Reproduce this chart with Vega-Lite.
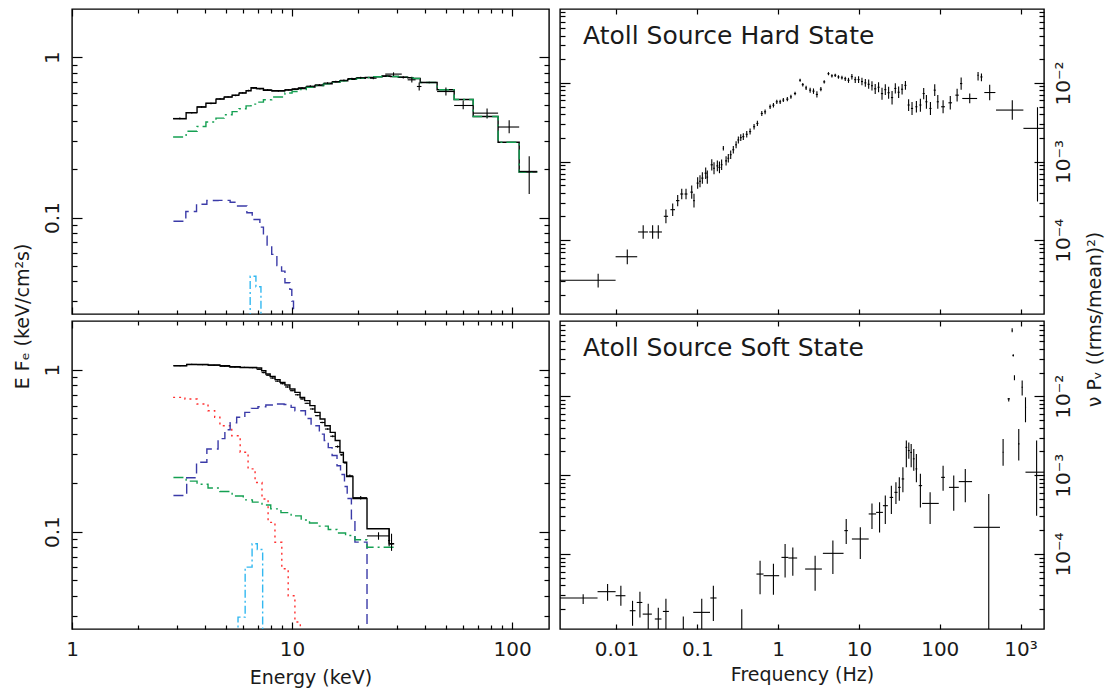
{
  "$schema": "https://vega.github.io/schema/vega-lite/v6.json",
  "background": "white",
  "padding": {"left": 12, "top": 7, "right": 0, "bottom": 0},
  "autosize": {"type": "pad"},
  "config": {
    "view": {"stroke": "#000", "strokeWidth": 1.4},
    "font": "DejaVu Sans",
    "axis": {
      "domain": false, "grid": false, "tickColor": "#000", "tickWidth": 1.2,
      "labelFont": "DejaVu Sans", "labelFontSize": 20, "labelColor": "#1a1a1a",
      "labelFlush": false, "labelOverlap": false,
      "titleFont": "DejaVu Sans", "titleFontSize": 19, "titleFontWeight": "normal", "titleColor": "#1a1a1a"
    },
    "title": {"font": "DejaVu Sans", "fontSize": 25, "fontWeight": "normal", "color": "#1a1a1a"}
  },
  "datasets": {
    "tlModel": [
      {"c":"tot","e":2.88,"f":0.413},{"c":"tot","e":3.30,"f":0.451},{"c":"tot","e":3.70,"f":0.489},{"c":"tot","e":4.06,"f":0.517},
      {"c":"tot","e":4.51,"f":0.548},{"c":"tot","e":4.91,"f":0.564},{"c":"tot","e":5.34,"f":0.580},{"c":"tot","e":5.74,"f":0.597},
      {"c":"tot","e":6.18,"f":0.618},{"c":"tot","e":6.51,"f":0.645},{"c":"tot","e":6.88,"f":0.638},{"c":"tot","e":7.41,"f":0.623},
      {"c":"tot","e":8.08,"f":0.618},{"c":"tot","e":9.28,"f":0.625},{"c":"tot","e":10.0,"f":0.632},{"c":"tot","e":10.65,"f":0.638},
      {"c":"tot","e":11.6,"f":0.652},{"c":"tot","e":12.7,"f":0.666},{"c":"tot","e":13.9,"f":0.683},{"c":"tot","e":15.2,"f":0.699},
      {"c":"tot","e":16.5,"f":0.714},{"c":"tot","e":17.9,"f":0.729},{"c":"tot","e":19.6,"f":0.739},{"c":"tot","e":21.5,"f":0.747},
      {"c":"tot","e":23.5,"f":0.755},{"c":"tot","e":25.6,"f":0.761},{"c":"tot","e":28.0,"f":0.758},{"c":"tot","e":30.4,"f":0.751},
      {"c":"tot","e":33.5,"f":0.745},{"c":"tot","e":35.5,"f":0.737},{"c":"tot","e":38.2,"f":0.696},{"c":"tot","e":45.6,"f":0.627},
      {"c":"tot","e":54.5,"f":0.545},{"c":"tot","e":66.5,"f":0.427},{"c":"tot","e":86.3,"f":0.295},{"c":"tot","e":107.6,"f":0.192},
      {"c":"tot","e":130,"f":0.192},
      {"c":"comp","e":2.88,"f":0.318},{"c":"comp","e":3.30,"f":0.345},{"c":"comp","e":3.70,"f":0.370},{"c":"comp","e":4.06,"f":0.394},
      {"c":"comp","e":4.51,"f":0.417},{"c":"comp","e":4.91,"f":0.438},{"c":"comp","e":5.34,"f":0.458},{"c":"comp","e":5.74,"f":0.477},
      {"c":"comp","e":6.18,"f":0.497},{"c":"comp","e":6.51,"f":0.510},{"c":"comp","e":6.88,"f":0.525},{"c":"comp","e":7.41,"f":0.543},
      {"c":"comp","e":8.08,"f":0.565},{"c":"comp","e":9.28,"f":0.598},{"c":"comp","e":10.0,"f":0.611},{"c":"comp","e":10.65,"f":0.628},
      {"c":"comp","e":11.6,"f":0.650},{"c":"comp","e":12.7,"f":0.666},{"c":"comp","e":13.9,"f":0.683},{"c":"comp","e":15.2,"f":0.699},
      {"c":"comp","e":16.5,"f":0.713},{"c":"comp","e":17.9,"f":0.728},{"c":"comp","e":19.6,"f":0.739},{"c":"comp","e":21.5,"f":0.747},
      {"c":"comp","e":23.5,"f":0.755},{"c":"comp","e":25.6,"f":0.761},{"c":"comp","e":28.0,"f":0.758},{"c":"comp","e":30.4,"f":0.751},
      {"c":"comp","e":33.5,"f":0.745},{"c":"comp","e":35.5,"f":0.737},{"c":"comp","e":38.2,"f":0.696},{"c":"comp","e":45.6,"f":0.627},
      {"c":"comp","e":54.5,"f":0.545},{"c":"comp","e":66.5,"f":0.427},{"c":"comp","e":86.3,"f":0.295},{"c":"comp","e":107.6,"f":0.192},
      {"c":"comp","e":130,"f":0.192},
      {"c":"disk","e":2.89,"f":0.0948},{"c":"disk","e":3.29,"f":0.109},{"c":"disk","e":3.68,"f":0.121},{"c":"disk","e":4.10,"f":0.1276},
      {"c":"disk","e":4.61,"f":0.128},{"c":"disk","e":5.23,"f":0.1245},{"c":"disk","e":5.60,"f":0.118},{"c":"disk","e":6.23,"f":0.107},
      {"c":"disk","e":6.59,"f":0.0972},{"c":"disk","e":7.14,"f":0.0871},{"c":"disk","e":7.41,"f":0.0765},{"c":"disk","e":7.70,"f":0.0673},
      {"c":"disk","e":8.08,"f":0.0589},{"c":"disk","e":8.53,"f":0.0502},{"c":"disk","e":8.96,"f":0.0463},{"c":"disk","e":9.28,"f":0.0392},
      {"c":"disk","e":9.77,"f":0.0356},{"c":"disk","e":9.97,"f":0.0301},{"c":"disk","e":10.15,"f":0.012},{"c":"disk","e":10.5,"f":0.012},
      {"c":"line","e":6.0,"f":0.005},{"c":"line","e":6.45,"f":0.043},{"c":"line","e":6.85,"f":0.037},{"c":"line","e":7.22,"f":0.005},
      {"c":"line","e":7.5,"f":0.005}
    ],
    "tlData": [
      {"e":3.09,"elo":2.88,"ehi":3.30,"f":0.415,"flo":0.41,"fhi":0.42},
      {"e":3.50,"elo":3.30,"ehi":3.70,"f":0.45,"flo":0.445,"fhi":0.455},
      {"e":3.88,"elo":3.70,"ehi":4.06,"f":0.49,"flo":0.484,"fhi":0.496},
      {"e":4.28,"elo":4.06,"ehi":4.51,"f":0.515,"flo":0.509,"fhi":0.521},
      {"e":4.71,"elo":4.51,"ehi":4.91,"f":0.55,"flo":0.544,"fhi":0.556},
      {"e":5.12,"elo":4.91,"ehi":5.34,"f":0.566,"flo":0.56,"fhi":0.572},
      {"e":5.54,"elo":5.34,"ehi":5.74,"f":0.578,"flo":0.572,"fhi":0.584},
      {"e":5.96,"elo":5.74,"ehi":6.18,"f":0.60,"flo":0.594,"fhi":0.606},
      {"e":6.34,"elo":6.18,"ehi":6.51,"f":0.62,"flo":0.613,"fhi":0.627},
      {"e":6.70,"elo":6.51,"ehi":6.88,"f":0.642,"flo":0.635,"fhi":0.649},
      {"e":7.14,"elo":6.88,"ehi":7.41,"f":0.636,"flo":0.629,"fhi":0.643},
      {"e":7.74,"elo":7.41,"ehi":8.08,"f":0.626,"flo":0.619,"fhi":0.633},
      {"e":8.66,"elo":8.08,"ehi":9.28,"f":0.616,"flo":0.609,"fhi":0.623},
      {"e":9.64,"elo":9.28,"ehi":10.0,"f":0.627,"flo":0.62,"fhi":0.634},
      {"e":10.3,"elo":10.0,"ehi":10.65,"f":0.634,"flo":0.627,"fhi":0.641},
      {"e":11.1,"elo":10.65,"ehi":11.6,"f":0.645,"flo":0.638,"fhi":0.652},
      {"e":12.1,"elo":11.6,"ehi":12.7,"f":0.66,"flo":0.652,"fhi":0.668},
      {"e":13.3,"elo":12.7,"ehi":13.9,"f":0.672,"flo":0.664,"fhi":0.68},
      {"e":14.5,"elo":13.9,"ehi":15.2,"f":0.69,"flo":0.682,"fhi":0.698},
      {"e":15.8,"elo":15.2,"ehi":16.5,"f":0.705,"flo":0.697,"fhi":0.713},
      {"e":17.2,"elo":16.5,"ehi":17.9,"f":0.718,"flo":0.709,"fhi":0.727},
      {"e":18.7,"elo":17.9,"ehi":19.6,"f":0.736,"flo":0.727,"fhi":0.745},
      {"e":20.5,"elo":19.6,"ehi":21.5,"f":0.745,"flo":0.735,"fhi":0.755},
      {"e":23.4,"elo":22.6,"ehi":24.2,"f":0.74,"flo":0.73,"fhi":0.75},
      {"e":26.7,"elo":25.6,"ehi":28.0,"f":0.765,"flo":0.755,"fhi":0.775},
      {"e":28.9,"elo":26.5,"ehi":31.5,"f":0.785,"flo":0.765,"fhi":0.805},
      {"e":32.0,"elo":30.4,"ehi":33.5,"f":0.75,"flo":0.738,"fhi":0.762},
      {"e":35.0,"elo":33.5,"ehi":36.4,"f":0.723,"flo":0.695,"fhi":0.755},
      {"e":37.8,"elo":36.9,"ehi":38.7,"f":0.657,"flo":0.62,"fhi":0.695},
      {"e":42.0,"elo":38.2,"ehi":45.6,"f":0.696,"flo":0.688,"fhi":0.704},
      {"e":50.0,"elo":45.6,"ehi":54.5,"f":0.611,"flo":0.577,"fhi":0.647},
      {"e":59.9,"elo":54.5,"ehi":66.5,"f":0.50,"flo":0.473,"fhi":0.537},
      {"e":76.9,"elo":66.5,"ehi":86.3,"f":0.448,"flo":0.415,"fhi":0.479},
      {"e":96.9,"elo":86.3,"ehi":107.6,"f":0.367,"flo":0.335,"fhi":0.404},
      {"e":119.5,"elo":107.6,"ehi":130,"f":0.194,"flo":0.14,"fhi":0.241}
    ],
    "blModel": [
      {"c":"tot","e":2.89,"f":1.059},{"c":"tot","e":3.32,"f":1.078},{"c":"tot","e":3.70,"f":1.078},{"c":"tot","e":4.15,"f":1.070},
      {"c":"tot","e":4.70,"f":1.059},{"c":"tot","e":5.20,"f":1.043},{"c":"tot","e":5.81,"f":1.033},{"c":"tot","e":6.35,"f":1.033},
      {"c":"tot","e":6.90,"f":1.024},{"c":"tot","e":7.27,"f":0.986},{"c":"tot","e":7.60,"f":0.941},{"c":"tot","e":7.95,"f":0.909},
      {"c":"tot","e":8.37,"f":0.868},{"c":"tot","e":8.82,"f":0.835},{"c":"tot","e":9.28,"f":0.804},{"c":"tot","e":9.77,"f":0.760},
      {"c":"tot","e":10.3,"f":0.724},{"c":"tot","e":10.87,"f":0.674},{"c":"tot","e":11.4,"f":0.644},{"c":"tot","e":12.05,"f":0.600},
      {"c":"tot","e":12.7,"f":0.545},{"c":"tot","e":13.4,"f":0.496},{"c":"tot","e":14.1,"f":0.451},{"c":"tot","e":14.9,"f":0.410},
      {"c":"tot","e":15.7,"f":0.365},{"c":"tot","e":16.5,"f":0.308},{"c":"tot","e":17.1,"f":0.268},{"c":"tot","e":17.7,"f":0.219},
      {"c":"tot","e":18.9,"f":0.160},{"c":"tot","e":21.9,"f":0.104},{"c":"tot","e":27.6,"f":0.084},{"c":"tot","e":29.1,"f":0.084},
      {"c":"bb","e":2.88,"f":0.675},{"c":"bb","e":3.26,"f":0.659},{"c":"bb","e":3.70,"f":0.614},{"c":"bb","e":4.15,"f":0.558},
      {"c":"bb","e":4.45,"f":0.508},{"c":"bb","e":4.70,"f":0.451},{"c":"bb","e":5.32,"f":0.391},{"c":"bb","e":5.81,"f":0.309},
      {"c":"bb","e":6.31,"f":0.244},{"c":"bb","e":6.79,"f":0.201},{"c":"bb","e":7.30,"f":0.159},{"c":"bb","e":7.78,"f":0.114},
      {"c":"bb","e":8.36,"f":0.0859},{"c":"bb","e":8.98,"f":0.0589},{"c":"bb","e":9.60,"f":0.0401},{"c":"bb","e":10.3,"f":0.0276},
      {"c":"bb","e":10.9,"f":0.0185},{"c":"bb","e":11.5,"f":0.0185},
      {"c":"disk","e":2.89,"f":0.167},{"c":"disk","e":3.32,"f":0.215},{"c":"disk","e":3.68,"f":0.268},{"c":"disk","e":4.10,"f":0.324},
      {"c":"disk","e":4.61,"f":0.375},{"c":"disk","e":4.95,"f":0.426},{"c":"disk","e":5.23,"f":0.47},{"c":"disk","e":5.60,"f":0.508},
      {"c":"disk","e":6.10,"f":0.545},{"c":"disk","e":6.53,"f":0.577},{"c":"disk","e":7.00,"f":0.590},{"c":"disk","e":7.60,"f":0.605},
      {"c":"disk","e":8.50,"f":0.614},{"c":"disk","e":9.20,"f":0.610},{"c":"disk","e":9.90,"f":0.585},{"c":"disk","e":10.3,"f":0.558},
      {"c":"disk","e":11.5,"f":0.500},{"c":"disk","e":12.2,"f":0.451},{"c":"disk","e":13.3,"f":0.400},{"c":"disk","e":14.0,"f":0.365},
      {"c":"disk","e":14.6,"f":0.330},{"c":"disk","e":15.2,"f":0.295},{"c":"disk","e":16.0,"f":0.255},{"c":"disk","e":16.6,"f":0.225},
      {"c":"disk","e":17.3,"f":0.190},{"c":"disk","e":17.8,"f":0.160},{"c":"disk","e":18.6,"f":0.120},{"c":"disk","e":19.3,"f":0.086},
      {"c":"disk","e":21.9,"f":0.005},{"c":"disk","e":22.5,"f":0.005},
      {"c":"comp","e":2.89,"f":0.216},{"c":"comp","e":3.30,"f":0.205},{"c":"comp","e":3.70,"f":0.196},{"c":"comp","e":4.15,"f":0.186},
      {"c":"comp","e":4.70,"f":0.177},{"c":"comp","e":5.34,"f":0.166},{"c":"comp","e":6.00,"f":0.157},{"c":"comp","e":6.60,"f":0.152},
      {"c":"comp","e":7.30,"f":0.146},{"c":"comp","e":8.00,"f":0.138},{"c":"comp","e":8.90,"f":0.131},{"c":"comp","e":9.90,"f":0.125},
      {"c":"comp","e":11.0,"f":0.118},{"c":"comp","e":12.0,"f":0.113},{"c":"comp","e":13.3,"f":0.108},{"c":"comp","e":14.6,"f":0.103},
      {"c":"comp","e":16.0,"f":0.098},{"c":"comp","e":17.5,"f":0.0945},{"c":"comp","e":19.3,"f":0.089},{"c":"comp","e":21.9,"f":0.080},
      {"c":"comp","e":29.5,"f":0.080},
      {"c":"line","e":5.2,"f":0.005},{"c":"line","e":5.68,"f":0.0296},{"c":"line","e":6.12,"f":0.0603},{"c":"line","e":6.58,"f":0.084},
      {"c":"line","e":6.95,"f":0.0774},{"c":"line","e":7.35,"f":0.005},{"c":"line","e":7.6,"f":0.005}
    ],
    "blData": [
      {"e":3.10,"elo":2.89,"ehi":3.32,"f":1.06,"flo":1.05,"fhi":1.07},
      {"e":3.50,"elo":3.32,"ehi":3.70,"f":1.078,"flo":1.068,"fhi":1.088},
      {"e":3.92,"elo":3.70,"ehi":4.15,"f":1.075,"flo":1.065,"fhi":1.085},
      {"e":4.42,"elo":4.15,"ehi":4.70,"f":1.065,"flo":1.055,"fhi":1.075},
      {"e":4.94,"elo":4.70,"ehi":5.20,"f":1.05,"flo":1.04,"fhi":1.06},
      {"e":5.50,"elo":5.20,"ehi":5.81,"f":1.038,"flo":1.028,"fhi":1.048},
      {"e":6.07,"elo":5.81,"ehi":6.35,"f":1.033,"flo":1.023,"fhi":1.043},
      {"e":6.62,"elo":6.35,"ehi":6.90,"f":1.03,"flo":1.02,"fhi":1.04},
      {"e":7.08,"elo":6.90,"ehi":7.27,"f":1.005,"flo":0.995,"fhi":1.015},
      {"e":7.43,"elo":7.27,"ehi":7.60,"f":0.96,"flo":0.95,"fhi":0.97},
      {"e":7.77,"elo":7.60,"ehi":7.95,"f":0.925,"flo":0.916,"fhi":0.934},
      {"e":8.16,"elo":7.95,"ehi":8.37,"f":0.888,"flo":0.879,"fhi":0.897},
      {"e":8.59,"elo":8.37,"ehi":8.82,"f":0.85,"flo":0.842,"fhi":0.858},
      {"e":9.05,"elo":8.82,"ehi":9.28,"f":0.82,"flo":0.812,"fhi":0.828},
      {"e":9.52,"elo":9.28,"ehi":9.77,"f":0.782,"flo":0.774,"fhi":0.79},
      {"e":10.0,"elo":9.77,"ehi":10.3,"f":0.742,"flo":0.735,"fhi":0.749},
      {"e":10.6,"elo":10.3,"ehi":10.87,"f":0.70,"flo":0.693,"fhi":0.707},
      {"e":11.1,"elo":10.87,"ehi":11.4,"f":0.66,"flo":0.653,"fhi":0.667},
      {"e":11.7,"elo":11.4,"ehi":12.05,"f":0.62,"flo":0.614,"fhi":0.626},
      {"e":12.4,"elo":12.05,"ehi":12.7,"f":0.572,"flo":0.566,"fhi":0.578},
      {"e":13.0,"elo":12.7,"ehi":13.4,"f":0.52,"flo":0.515,"fhi":0.525},
      {"e":13.7,"elo":13.4,"ehi":14.1,"f":0.472,"flo":0.467,"fhi":0.477},
      {"e":14.5,"elo":14.1,"ehi":14.9,"f":0.43,"flo":0.425,"fhi":0.435},
      {"e":15.3,"elo":14.9,"ehi":15.7,"f":0.388,"flo":0.383,"fhi":0.393},
      {"e":16.1,"elo":15.7,"ehi":16.5,"f":0.335,"flo":0.33,"fhi":0.34},
      {"e":16.8,"elo":16.5,"ehi":17.1,"f":0.298,"flo":0.294,"fhi":0.302},
      {"e":17.4,"elo":17.1,"ehi":17.7,"f":0.266,"flo":0.262,"fhi":0.27},
      {"e":18.3,"elo":17.7,"ehi":18.9,"f":0.221,"flo":0.217,"fhi":0.225},
      {"e":20.5,"elo":18.9,"ehi":21.9,"f":0.162,"flo":0.158,"fhi":0.166},
      {"e":24.7,"elo":21.9,"ehi":27.6,"f":0.094,"flo":0.089,"fhi":0.099},
      {"e":27.6,"elo":27.3,"ehi":27.9,"f":0.088,"flo":0.081,"fhi":0.104},
      {"e":28.3,"elo":27.8,"ehi":28.8,"f":0.084,"flo":0.076,"fhi":0.097}
    ],
    "trData": [
      {"f":0.00593,"flo":0.00197,"fhi":0.00975,"p":3.09e-5,"plo":2.49e-5,"phi":3.74e-5},
      {"f":0.0136,"flo":0.00975,"fhi":0.01805,"p":6.15e-5,"plo":4.92e-5,"phi":7.62e-5},
      {"f":0.0214,"flo":0.0185,"fhi":0.0245,"p":1.27e-4,"plo":1.04e-4,"phi":1.55e-4},
      {"f":0.028,"flo":0.0254,"fhi":0.0305,"p":1.27e-4,"plo":1.04e-4,"phi":1.55e-4},
      {"f":0.0329,"flo":0.0305,"fhi":0.0365,"p":1.27e-4,"plo":1.04e-4,"phi":1.55e-4},
      {"f":0.0409,"flo":0.0385,"fhi":0.0435,"p":2.01e-4,"plo":1.64e-4,"phi":2.46e-4},
      {"f":0.0496,"flo":0.0465,"fhi":0.053,"p":2.44e-4,"plo":2.03e-4,"phi":2.93e-4},
      {"f":0.0572,"flo":0.0545,"fhi":0.06,"p":3.18e-4,"plo":2.7e-4,"phi":3.75e-4},
      {"f":0.0642,"flo":0.0615,"fhi":0.067,"p":3.86e-4,"plo":3.3e-4,"phi":4.5e-4},
      {"f":0.0725,"flo":0.0695,"fhi":0.0755,"p":3.86e-4,"plo":3.3e-4,"phi":4.5e-4},
      {"f":0.0853,"flo":0.082,"fhi":0.0885,"p":4.08e-4,"plo":3.35e-4,"phi":4.95e-4},
      {"f":0.091,"flo":0.089,"fhi":0.093,"p":3.18e-4,"plo":2.6e-4,"phi":3.9e-4},
      {"f":0.101,"flo":0.098,"fhi":0.104,"p":5.31e-4,"plo":4.5e-4,"phi":6.3e-4},
      {"f":0.108,"flo":0.105,"fhi":0.111,"p":5.6e-4,"plo":4.7e-4,"phi":6.7e-4},
      {"f":0.1155,"flo":0.112,"fhi":0.119,"p":6.15e-4,"plo":5.2e-4,"phi":7.3e-4},
      {"f":0.127,"flo":0.123,"fhi":0.131,"p":7.11e-4,"plo":6.0e-4,"phi":8.4e-4},
      {"f":0.133,"flo":0.13,"fhi":0.136,"p":6.33e-4,"plo":5.2e-4,"phi":7.7e-4},
      {"f":0.151,"flo":0.146,"fhi":0.156,"p":9.08e-4,"plo":7.7e-4,"phi":1.07e-3},
      {"f":0.161,"flo":0.157,"fhi":0.165,"p":8.22e-4,"plo":6.9e-4,"phi":9.8e-4},
      {"f":0.177,"flo":0.172,"fhi":0.182,"p":8.8e-4,"plo":7.5e-4,"phi":1.03e-3},
      {"f":0.188,"flo":0.183,"fhi":0.193,"p":8.4e-4,"plo":7.1e-4,"phi":1.0e-3},
      {"f":0.2,"flo":0.195,"fhi":0.205,"p":9.1e-4,"plo":7.8e-4,"phi":1.06e-3},
      {"f":0.21,"flo":0.207,"fhi":0.213,"p":1.47e-3,"plo":1.38e-3,"phi":1.57e-3},
      {"f":0.227,"flo":0.221,"fhi":0.233,"p":1.02e-3,"plo":8.9e-4,"phi":1.17e-3},
      {"f":0.242,"flo":0.236,"fhi":0.248,"p":1.10e-3,"plo":9.7e-4,"phi":1.25e-3},
      {"f":0.259,"flo":0.252,"fhi":0.266,"p":1.22e-3,"plo":1.08e-3,"phi":1.38e-3},
      {"f":0.279,"flo":0.271,"fhi":0.287,"p":1.41e-3,"plo":1.26e-3,"phi":1.58e-3},
      {"f":0.302,"flo":0.294,"fhi":0.31,"p":1.63e-3,"plo":1.47e-3,"phi":1.81e-3},
      {"f":0.322,"flo":0.313,"fhi":0.331,"p":1.88e-3,"plo":1.7e-3,"phi":2.08e-3},
      {"f":0.345,"flo":0.336,"fhi":0.355,"p":2.01e-3,"plo":1.82e-3,"phi":2.22e-3},
      {"f":0.371,"flo":0.36,"fhi":0.382,"p":2.07e-3,"plo":1.88e-3,"phi":2.28e-3},
      {"f":0.409,"flo":0.397,"fhi":0.421,"p":2.22e-3,"plo":2.02e-3,"phi":2.44e-3},
      {"f":0.45,"flo":0.437,"fhi":0.464,"p":2.4e-3,"plo":2.2e-3,"phi":2.62e-3},
      {"f":0.504,"flo":0.49,"fhi":0.52,"p":2.77e-3,"plo":2.55e-3,"phi":3.01e-3},
      {"f":0.554,"flo":0.538,"fhi":0.57,"p":3.05e-3,"plo":2.82e-3,"phi":3.3e-3},
      {"f":0.628,"flo":0.61,"fhi":0.647,"p":4.08e-3,"plo":3.8e-3,"phi":4.38e-3},
      {"f":0.69,"flo":0.67,"fhi":0.71,"p":4.29e-3,"plo":4.0e-3,"phi":4.6e-3},
      {"f":0.796,"flo":0.773,"fhi":0.82,"p":4.97e-3,"plo":4.65e-3,"phi":5.3e-3},
      {"f":0.875,"flo":0.85,"fhi":0.9,"p":5.2e-3,"plo":4.88e-3,"phi":5.55e-3},
      {"f":0.963,"flo":0.935,"fhi":0.99,"p":5.75e-3,"plo":5.4e-3,"phi":6.12e-3},
      {"f":1.06,"flo":1.03,"fhi":1.09,"p":5.75e-3,"plo":5.4e-3,"phi":6.12e-3},
      {"f":1.16,"flo":1.13,"fhi":1.19,"p":6.04e-3,"plo":5.7e-3,"phi":6.4e-3},
      {"f":1.30,"flo":1.26,"fhi":1.34,"p":6.2e-3,"plo":5.85e-3,"phi":6.6e-3},
      {"f":1.44,"flo":1.4,"fhi":1.48,"p":6.65e-3,"plo":6.3e-3,"phi":7.05e-3},
      {"f":1.62,"flo":1.57,"fhi":1.67,"p":7.32e-3,"plo":6.95e-3,"phi":7.7e-3},
      {"f":1.87,"flo":1.82,"fhi":1.92,"p":1.08e-2,"plo":1.03e-2,"phi":1.13e-2},
      {"f":2.02,"flo":1.96,"fhi":2.08,"p":9.5e-3,"plo":9.0e-3,"phi":1.0e-2},
      {"f":2.22,"flo":2.16,"fhi":2.28,"p":8.64e-3,"plo":8.1e-3,"phi":9.2e-3},
      {"f":2.49,"flo":2.42,"fhi":2.56,"p":8.08e-3,"plo":7.5e-3,"phi":8.7e-3},
      {"f":2.74,"flo":2.66,"fhi":2.82,"p":7.85e-3,"plo":7.25e-3,"phi":8.5e-3},
      {"f":3.02,"flo":2.93,"fhi":3.11,"p":7.13e-3,"plo":6.5e-3,"phi":7.8e-3},
      {"f":3.38,"flo":3.28,"fhi":3.48,"p":8.3e-3,"plo":7.8e-3,"phi":8.85e-3},
      {"f":3.72,"flo":3.61,"fhi":3.83,"p":1.03e-2,"plo":9.8e-3,"phi":1.08e-2},
      {"f":4.2,"flo":4.08,"fhi":4.32,"p":1.31e-2,"plo":1.25e-2,"phi":1.37e-2},
      {"f":4.63,"flo":4.5,"fhi":4.77,"p":1.23e-2,"plo":1.17e-2,"phi":1.29e-2},
      {"f":5.09,"flo":4.94,"fhi":5.24,"p":1.25e-2,"plo":1.19e-2,"phi":1.31e-2},
      {"f":5.58,"flo":5.42,"fhi":5.75,"p":1.19e-2,"plo":1.13e-2,"phi":1.25e-2},
      {"f":6.16,"flo":5.98,"fhi":6.34,"p":1.16e-2,"plo":1.1e-2,"phi":1.23e-2},
      {"f":6.77,"flo":6.57,"fhi":6.97,"p":1.13e-2,"plo":1.06e-2,"phi":1.2e-2},
      {"f":7.43,"flo":7.21,"fhi":7.65,"p":1.08e-2,"plo":1.0e-2,"phi":1.16e-2},
      {"f":8.18,"flo":7.94,"fhi":8.42,"p":1.2e-2,"plo":1.1e-2,"phi":1.3e-2},
      {"f":9.0,"flo":8.74,"fhi":9.27,"p":1.1e-2,"plo":1.0e-2,"phi":1.2e-2},
      {"f":9.9,"flo":9.61,"fhi":10.2,"p":1.1e-2,"plo":1.0e-2,"phi":1.21e-2},
      {"f":10.9,"flo":10.6,"fhi":11.2,"p":1.04e-2,"plo":9.3e-3,"phi":1.16e-2},
      {"f":12.0,"flo":11.65,"fhi":12.35,"p":1.0e-2,"plo":8.9e-3,"phi":1.12e-2},
      {"f":13.2,"flo":12.8,"fhi":13.6,"p":9.6e-3,"plo":8.4e-3,"phi":1.1e-2},
      {"f":14.5,"flo":14.1,"fhi":14.9,"p":9.2e-3,"plo":8.0e-3,"phi":1.05e-2},
      {"f":15.9,"flo":15.4,"fhi":16.4,"p":8.4e-3,"plo":7.2e-3,"phi":9.7e-3},
      {"f":17.5,"flo":17.0,"fhi":18.0,"p":8.8e-3,"plo":7.6e-3,"phi":1.02e-2},
      {"f":19.3,"flo":18.7,"fhi":19.9,"p":7.3e-3,"plo":6.1e-3,"phi":8.7e-3},
      {"f":21.2,"flo":20.6,"fhi":21.8,"p":8.2e-3,"plo":7.0e-3,"phi":9.6e-3},
      {"f":23.3,"flo":22.6,"fhi":24.0,"p":7.5e-3,"plo":6.3e-3,"phi":8.9e-3},
      {"f":25.7,"flo":24.9,"fhi":26.5,"p":6.5e-3,"plo":5.3e-3,"phi":7.9e-3},
      {"f":28.2,"flo":27.4,"fhi":29.0,"p":8.5e-3,"plo":7.3e-3,"phi":9.9e-3},
      {"f":31.0,"flo":30.1,"fhi":31.9,"p":7.6e-3,"plo":6.4e-3,"phi":9.0e-3},
      {"f":34.2,"flo":33.2,"fhi":35.2,"p":8.3e-3,"plo":7.1e-3,"phi":9.7e-3},
      {"f":37.6,"flo":36.5,"fhi":38.7,"p":9.3e-3,"plo":8.2e-3,"phi":1.06e-2},
      {"f":41.2,"flo":40.0,"fhi":42.4,"p":5.23e-3,"plo":4.4e-3,"phi":6.2e-3},
      {"f":45.4,"flo":44.0,"fhi":46.8,"p":4.73e-3,"plo":3.9e-3,"phi":5.7e-3},
      {"f":51.4,"flo":49.9,"fhi":52.9,"p":4.97e-3,"plo":4.2e-3,"phi":5.9e-3},
      {"f":57.6,"flo":55.9,"fhi":59.3,"p":5.23e-3,"plo":4.3e-3,"phi":6.3e-3},
      {"f":63.3,"flo":61.4,"fhi":65.2,"p":7.32e-3,"plo":6.2e-3,"phi":8.6e-3},
      {"f":68.4,"flo":66.4,"fhi":70.4,"p":5.75e-3,"plo":4.7e-3,"phi":7.0e-3},
      {"f":76.7,"flo":74.4,"fhi":79.0,"p":4.73e-3,"plo":3.9e-3,"phi":5.7e-3},
      {"f":86.7,"flo":84.1,"fhi":89.3,"p":8.08e-3,"plo":6.8e-3,"phi":9.6e-3},
      {"f":94.6,"flo":91.8,"fhi":97.4,"p":5.75e-3,"plo":4.7e-3,"phi":7.0e-3},
      {"f":110,"flo":104,"fhi":116,"p":4.97e-3,"plo":4.1e-3,"phi":6.0e-3},
      {"f":135,"flo":128,"fhi":142,"p":5.58e-3,"plo":4.6e-3,"phi":6.8e-3},
      {"f":164,"flo":156,"fhi":172,"p":6.98e-3,"plo":5.8e-3,"phi":8.4e-3},
      {"f":184,"flo":178,"fhi":190,"p":9.8e-3,"plo":8.2e-3,"phi":1.17e-2},
      {"f":235,"flo":190,"fhi":290,"p":6.33e-3,"plo":5.5e-3,"phi":7.3e-3},
      {"f":298,"flo":292,"fhi":304,"p":1.25e-2,"plo":1.07e-2,"phi":1.38e-2},
      {"f":328,"flo":318,"fhi":338,"p":1.19e-2,"plo":1.05e-2,"phi":1.32e-2},
      {"f":415,"flo":356,"fhi":488,"p":7.54e-3,"plo":6.0e-3,"phi":9.5e-3},
      {"f":790,"flo":497,"fhi":1083,"p":4.51e-3,"plo":3.4e-3,"phi":6.0e-3},
      {"f":1620,"flo":1085,"fhi":2000,"p":2.64e-3,"plo":3.1e-4,"phi":4.9e-3}
    ],
    "brData": [
      {"f":0.00387,"flo":0.00197,"fhi":0.00583,"p":2.77e-5,"plo":2.32e-5,"phi":3.1e-5},
      {"f":0.00776,"flo":0.00583,"fhi":0.00975,"p":3.33e-5,"plo":2.55e-5,"phi":4.16e-5},
      {"f":0.01133,"flo":0.00975,"fhi":0.0129,"p":2.96e-5,"plo":2.21e-5,"phi":3.96e-5},
      {"f":0.0158,"flo":0.0146,"fhi":0.0172,"p":1.91e-5,"plo":1.23e-5,"phi":2.55e-5},
      {"f":0.0195,"flo":0.0178,"fhi":0.0209,"p":2.43e-5,"plo":1.57e-5,"phi":3.33e-5},
      {"f":0.0247,"flo":0.0211,"fhi":0.0274,"p":1.73e-5,"plo":1.0e-5,"phi":2.34e-5},
      {"f":0.0329,"flo":0.0298,"fhi":0.036,"p":1.5e-5,"plo":1.0e-5,"phi":2.08e-5},
      {"f":0.0409,"flo":0.0375,"fhi":0.0445,"p":1.87e-5,"plo":1.0e-5,"phi":2.71e-5},
      {"f":0.0671,"flo":0.066,"fhi":0.068,"p":9e-6,"plo":5e-6,"phi":1.61e-5},
      {"f":0.1135,"flo":0.089,"fhi":0.1436,"p":1.82e-5,"plo":1.0e-5,"phi":2.71e-5},
      {"f":0.158,"flo":0.145,"fhi":0.173,"p":2.77e-5,"plo":1.41e-5,"phi":3.96e-5},
      {"f":0.355,"flo":0.35,"fhi":0.36,"p":9e-6,"plo":5e-6,"phi":2.0e-5},
      {"f":0.598,"flo":0.54,"fhi":0.66,"p":5.57e-5,"plo":3.1e-5,"phi":8.22e-5},
      {"f":0.875,"flo":0.66,"fhi":1.03,"p":5.31e-5,"plo":3.05e-5,"phi":7.52e-5},
      {"f":1.22,"flo":1.10,"fhi":1.34,"p":9.06e-5,"plo":5.05e-5,"phi":1.34e-4},
      {"f":1.52,"flo":1.34,"fhi":1.72,"p":8.9e-5,"plo":5.31e-5,"phi":1.21e-4},
      {"f":2.87,"flo":2.16,"fhi":3.48,"p":6.45e-5,"plo":3.42e-5,"phi":9.5e-5},
      {"f":4.76,"flo":3.58,"fhi":6.45,"p":1.02e-4,"plo":5.57e-5,"phi":1.48e-4},
      {"f":6.96,"flo":6.6,"fhi":7.3,"p":1.98e-4,"plo":1.34e-4,"phi":2.78e-4},
      {"f":10.4,"flo":8.18,"fhi":13.2,"p":1.55e-4,"plo":8.65e-5,"phi":2.18e-4},
      {"f":14.5,"flo":13.2,"fhi":16.3,"p":3.22e-4,"plo":2.07e-4,"phi":4.38e-4},
      {"f":18.0,"flo":16.3,"fhi":19.8,"p":3.37e-4,"plo":1.88e-4,"phi":4.52e-4},
      {"f":21.2,"flo":19.8,"fhi":22.8,"p":4.1e-4,"plo":2.4e-4,"phi":5.5e-4},
      {"f":25.2,"flo":24.0,"fhi":26.5,"p":5.22e-4,"plo":3.22e-4,"phi":7.36e-4},
      {"f":28.7,"flo":27.5,"fhi":30.0,"p":6.05e-4,"plo":4.3e-4,"phi":8.1e-4},
      {"f":31.6,"flo":30.5,"fhi":32.8,"p":7.0e-4,"plo":4.75e-4,"phi":9.4e-4},
      {"f":35.0,"flo":33.8,"fhi":36.3,"p":8.95e-4,"plo":6.05e-4,"phi":1.26e-3},
      {"f":38.6,"flo":37.6,"fhi":39.6,"p":2.25e-3,"plo":1.26e-3,"phi":2.74e-3},
      {"f":41.4,"flo":40.3,"fhi":42.5,"p":2.05e-3,"plo":1.61e-3,"phi":2.6e-3},
      {"f":44.3,"flo":43.2,"fhi":45.4,"p":1.94e-3,"plo":1.26e-3,"phi":2.49e-3},
      {"f":47.7,"flo":46.5,"fhi":48.9,"p":1.61e-3,"plo":1.14e-3,"phi":2.15e-3},
      {"f":51.4,"flo":50.1,"fhi":52.7,"p":1.2e-3,"plo":8.1e-4,"phi":1.86e-3},
      {"f":57.6,"flo":55.0,"fhi":60.5,"p":7.36e-4,"plo":3.9e-4,"phi":1.04e-3},
      {"f":76.0,"flo":60.5,"fhi":97.2,"p":4.38e-4,"plo":2.4e-4,"phi":6.05e-4},
      {"f":110,"flo":104,"fhi":116,"p":9.37e-4,"plo":6.35e-4,"phi":1.32e-3},
      {"f":149,"flo":130,"fhi":172,"p":7.0e-4,"plo":3.54e-4,"phi":9.86e-4},
      {"f":207,"flo":172,"fhi":251,"p":8.28e-4,"plo":4.52e-4,"phi":1.2e-3},
      {"f":404,"flo":263,"fhi":556,"p":2.18e-4,"plo":1e-6,"phi":5.77e-4},
      {"f":608,"flo":600,"fhi":616,"p":1.95e-3,"plo":1.32e-3,"phi":2.88e-3},
      {"f":714,"flo":690,"fhi":738,"p":9.27e-3,"plo":8.6e-3,"phi":9.5e-3},
      {"f":787,"flo":780,"fhi":794,"p":6.8e-2,"plo":6.5e-2,"phi":7.3e-2},
      {"f":812,"flo":795,"fhi":830,"p":3.29e-2,"plo":3.2e-2,"phi":3.4e-2},
      {"f":840,"flo":835,"fhi":845,"p":1.73e-2,"plo":1.6e-2,"phi":1.85e-2},
      {"f":950,"flo":930,"fhi":970,"p":2.49e-3,"plo":1.53e-3,"phi":3.85e-3},
      {"f":1047,"flo":1030,"fhi":1065,"p":1.3e-2,"plo":1.02e-2,"phi":1.58e-2},
      {"f":1151,"flo":1135,"fhi":1170,"p":7.24e-3,"plo":4.68e-3,"phi":9.7e-3},
      {"f":1580,"flo":1150,"fhi":2100,"p":1.09e-3,"plo":3.06e-4,"phi":2.74e-3}
    ]
  },
  "columns": 2,
  "spacing": {"row": 7, "column": 11},
  "bounds": "flush",
  "resolve": {"scale": {"x": "independent", "y": "independent", "color": "independent", "strokeDash": "independent"}},
  "concat": [
    {
      "width": 477, "height": 305,
      "layer": [
        {
          "data": {"name": "tlModel"},
          "mark": {"type": "line", "interpolate": "step-after", "clip": true, "strokeWidth": 1.4},
          "encoding": {
            "x": {"field": "e", "type": "quantitative", "scale": {"type": "log", "domain": [1, 147], "nice": false},
              "axis": {"orient": "bottom", "values": [1,2,3,4,5,6,7,8,9,10,20,30,40,50,60,70,80,90,100], "labels": false, "title": null,
                "tickSize": {"condition": {"test": "datum.value == 1 || datum.value == 10 || datum.value == 100", "value": -7}, "value": -4}}},
            "y": {"field": "f", "type": "quantitative", "scale": {"type": "log", "domain": [0.025, 2.0], "nice": false},
              "axis": {"orient": "left", "values": [0.03,0.04,0.05,0.06,0.07,0.08,0.09,0.1,0.2,0.3,0.4,0.5,0.6,0.7,0.8,0.9,1],
                "tickSize": {"condition": {"test": "datum.value == 0.1 || datum.value == 1", "value": -10}, "value": -5},
                "labelExpr": "datum.value == 1 ? '1' : datum.value == 0.1 ? '0.1' : ''",
                "labelAngle": 270, "labelAlign": "center", "labelBaseline": "bottom", "labelPadding": 20,
                "title": "E Fₑ (keV/cm²s)", "titleAngle": 270, "titleAlign": "center", "titleBaseline": "middle", "titleX": -50, "titleY": 307}},
            "color": {"field": "c", "type": "nominal", "legend": null,
              "scale": {"domain": ["tot","comp","disk","bb","line"], "range": ["#000000","#14a052","#3b3ba8","#ff3030","#33b8f0"]}},
            "strokeDash": {"field": "c", "type": "nominal", "legend": null,
              "scale": {"domain": ["tot","comp","disk","bb","line"], "range": [[1,0],[10,4,2,4],[10,5],[2,4],[8,3,2,3]]}}
          }
        },
        {
          "data": {"name": "tlData"},
          "mark": {"type": "rule", "clip": true, "color": "#000", "strokeWidth": 1.1},
          "encoding": {
            "x": {"field": "elo", "type": "quantitative", "scale": {"type": "log", "domain": [1, 147], "nice": false},
              "axis": {"orient": "top", "values": [1,2,3,4,5,6,7,8,9,10,20,30,40,50,60,70,80,90,100], "labels": false, "title": null,
                "tickSize": {"condition": {"test": "datum.value == 1 || datum.value == 10 || datum.value == 100", "value": -7}, "value": -4}}},
            "x2": {"field": "ehi"},
            "y": {"field": "f", "type": "quantitative", "scale": {"type": "log", "domain": [0.025, 2.0], "nice": false},
              "axis": {"orient": "right", "values": [0.03,0.04,0.05,0.06,0.07,0.08,0.09,0.1,0.2,0.3,0.4,0.5,0.6,0.7,0.8,0.9,1], "labels": false, "title": null,
                "tickSize": {"condition": {"test": "datum.value == 0.1 || datum.value == 1", "value": -10}, "value": -5}}}
          }
        },
        {
          "data": {"name": "tlData"},
          "mark": {"type": "rule", "clip": true, "color": "#000", "strokeWidth": 1.1},
          "encoding": {
            "x": {"field": "e", "type": "quantitative", "scale": {"type": "log", "domain": [1, 147], "nice": false}, "axis": null},
            "y": {"field": "flo", "type": "quantitative", "scale": {"type": "log", "domain": [0.025, 2.0], "nice": false}, "axis": null},
            "y2": {"field": "fhi"}
          }
        }
      ],
      "resolve": {"axis": {"x": "independent", "y": "independent"}}
    },
    {
      "width": 484, "height": 305,
      "title": {"text": "Atoll Source Hard State", "anchor": "start", "frame": "group", "orient": "top", "offset": -61, "dx": 23, "baseline": "alphabetic"},
      "layer": [
        {
          "data": {"name": "trData"},
          "mark": {"type": "rule", "clip": true, "color": "#000", "strokeWidth": 1.1},
          "encoding": {
            "x": {"field": "flo", "type": "quantitative", "scale": {"type": "log", "domain": [0.002, 1950], "nice": false},
              "axis": {"orient": "bottom", "values": [0.01,0.1,1,10,100,1000], "labels": false, "title": null, "tickSize": -5}},
            "x2": {"field": "fhi"},
            "y": {"field": "p", "type": "quantitative", "scale": {"type": "log", "domain": [1.15e-5, 0.087], "nice": false},
              "axis": {"orient": "left", "values": [2e-5,3e-5,4e-5,5e-5,6e-5,7e-5,8e-5,9e-5,1e-4,2e-4,3e-4,4e-4,5e-4,6e-4,7e-4,8e-4,9e-4,1e-3,2e-3,3e-3,4e-3,5e-3,6e-3,7e-3,8e-3,9e-3,1e-2,2e-2,3e-2,4e-2,5e-2,6e-2,7e-2,8e-2],
                "labels": false, "title": null,
                "tickSize": {"condition": {"test": "datum.value == 0.0001 || datum.value == 0.001 || datum.value == 0.01", "value": -10}, "value": -5}}}
          }
        },
        {
          "data": {"name": "trData"},
          "mark": {"type": "rule", "clip": true, "color": "#000", "strokeWidth": 1.1},
          "encoding": {
            "x": {"field": "f", "type": "quantitative", "scale": {"type": "log", "domain": [0.002, 1950], "nice": false},
              "axis": {"orient": "top", "values": [0.01,0.1,1,10,100,1000], "labels": false, "title": null, "tickSize": -5}},
            "y": {"field": "plo", "type": "quantitative", "scale": {"type": "log", "domain": [1.15e-5, 0.087], "nice": false},
              "axis": {"orient": "right", "values": [2e-5,3e-5,4e-5,5e-5,6e-5,7e-5,8e-5,9e-5,1e-4,2e-4,3e-4,4e-4,5e-4,6e-4,7e-4,8e-4,9e-4,1e-3,2e-3,3e-3,4e-3,5e-3,6e-3,7e-3,8e-3,9e-3,1e-2,2e-2,3e-2,4e-2,5e-2,6e-2,7e-2,8e-2],
                "tickSize": {"condition": {"test": "datum.value == 0.0001 || datum.value == 0.001 || datum.value == 0.01", "value": -10}, "value": -5},
                "labelExpr": "datum.value == 0.0001 ? '10⁻⁴' : datum.value == 0.001 ? '10⁻³' : datum.value == 0.01 ? '10⁻²' : ''",
                "labelAngle": 270, "labelAlign": "center", "labelBaseline": "top", "labelPadding": 19,
                "title": "ν Pᵥ ((rms/mean)²)", "titleAngle": 270, "titleAlign": "center", "titleBaseline": "middle", "titleX": 50, "titleY": 310}},
            "y2": {"field": "phi"}
          }
        }
      ],
      "resolve": {"axis": {"x": "independent", "y": "independent"}}
    },
    {
      "width": 477, "height": 308,
      "layer": [
        {
          "data": {"name": "blModel"},
          "mark": {"type": "line", "interpolate": "step-after", "clip": true, "strokeWidth": 1.4},
          "encoding": {
            "x": {"field": "e", "type": "quantitative", "scale": {"type": "log", "domain": [1, 147], "nice": false},
              "axis": {"orient": "bottom", "values": [1,2,3,4,5,6,7,8,9,10,20,30,40,50,60,70,80,90,100],
                "tickSize": {"condition": {"test": "datum.value == 1 || datum.value == 10 || datum.value == 100", "value": -7}, "value": -4},
                "labelExpr": "datum.value == 1 ? '1' : datum.value == 10 ? '10' : datum.value == 100 ? '100' : ''",
                "labelPadding": 17, "title": "Energy (keV)", "titlePadding": 6}},
            "y": {"field": "f", "type": "quantitative", "scale": {"type": "log", "domain": [0.025, 2.0], "nice": false},
              "axis": {"orient": "left", "values": [0.03,0.04,0.05,0.06,0.07,0.08,0.09,0.1,0.2,0.3,0.4,0.5,0.6,0.7,0.8,0.9,1],
                "tickSize": {"condition": {"test": "datum.value == 0.1 || datum.value == 1", "value": -10}, "value": -5},
                "labelExpr": "datum.value == 1 ? '1' : datum.value == 0.1 ? '0.1' : ''",
                "labelAngle": 270, "labelAlign": "center", "labelBaseline": "bottom", "labelPadding": 20, "title": null}},
            "color": {"field": "c", "type": "nominal", "legend": null,
              "scale": {"domain": ["tot","comp","disk","bb","line"], "range": ["#000000","#14a052","#3b3ba8","#ff3030","#33b8f0"]}},
            "strokeDash": {"field": "c", "type": "nominal", "legend": null,
              "scale": {"domain": ["tot","comp","disk","bb","line"], "range": [[1,0],[10,4,2,4],[10,5],[2,4],[8,3,2,3]]}}
          }
        },
        {
          "data": {"name": "blData"},
          "mark": {"type": "rule", "clip": true, "color": "#000", "strokeWidth": 1.1},
          "encoding": {
            "x": {"field": "elo", "type": "quantitative", "scale": {"type": "log", "domain": [1, 147], "nice": false},
              "axis": {"orient": "top", "values": [1,2,3,4,5,6,7,8,9,10,20,30,40,50,60,70,80,90,100], "labels": false, "title": null,
                "tickSize": {"condition": {"test": "datum.value == 1 || datum.value == 10 || datum.value == 100", "value": -7}, "value": -4}}},
            "x2": {"field": "ehi"},
            "y": {"field": "f", "type": "quantitative", "scale": {"type": "log", "domain": [0.025, 2.0], "nice": false},
              "axis": {"orient": "right", "values": [0.03,0.04,0.05,0.06,0.07,0.08,0.09,0.1,0.2,0.3,0.4,0.5,0.6,0.7,0.8,0.9,1], "labels": false, "title": null,
                "tickSize": {"condition": {"test": "datum.value == 0.1 || datum.value == 1", "value": -10}, "value": -5}}}
          }
        },
        {
          "data": {"name": "blData"},
          "mark": {"type": "rule", "clip": true, "color": "#000", "strokeWidth": 1.1},
          "encoding": {
            "x": {"field": "e", "type": "quantitative", "scale": {"type": "log", "domain": [1, 147], "nice": false}, "axis": null},
            "y": {"field": "flo", "type": "quantitative", "scale": {"type": "log", "domain": [0.025, 2.0], "nice": false}, "axis": null},
            "y2": {"field": "fhi"}
          }
        }
      ],
      "resolve": {"axis": {"x": "independent", "y": "independent"}}
    },
    {
      "width": 484, "height": 308,
      "title": {"text": "Atoll Source Soft State", "anchor": "start", "frame": "group", "orient": "top", "offset": -61, "dx": 23, "baseline": "alphabetic"},
      "layer": [
        {
          "data": {"name": "brData"},
          "mark": {"type": "rule", "clip": true, "color": "#000", "strokeWidth": 1.1},
          "encoding": {
            "x": {"field": "flo", "type": "quantitative", "scale": {"type": "log", "domain": [0.002, 1950], "nice": false},
              "axis": {"orient": "bottom", "values": [0.01,0.1,1,10,100,1000], "tickSize": -5,
                "labelExpr": "datum.value == 1000 ? '10³' : datum.value == 100 ? '100' : datum.value == 10 ? '10' : datum.value == 1 ? '1' : datum.value == 0.1 ? '0.1' : '0.01'",
                "labelPadding": 15, "title": "Frequency (Hz)", "titlePadding": 6}},
            "x2": {"field": "fhi"},
            "y": {"field": "p", "type": "quantitative", "scale": {"type": "log", "domain": [1.12e-5, 0.09], "nice": false},
              "axis": {"orient": "left", "values": [2e-5,3e-5,4e-5,5e-5,6e-5,7e-5,8e-5,9e-5,1e-4,2e-4,3e-4,4e-4,5e-4,6e-4,7e-4,8e-4,9e-4,1e-3,2e-3,3e-3,4e-3,5e-3,6e-3,7e-3,8e-3,9e-3,1e-2,2e-2,3e-2,4e-2,5e-2,6e-2,7e-2,8e-2],
                "labels": false, "title": null,
                "tickSize": {"condition": {"test": "datum.value == 0.0001 || datum.value == 0.001 || datum.value == 0.01", "value": -10}, "value": -5}}}
          }
        },
        {
          "data": {"name": "brData"},
          "mark": {"type": "rule", "clip": true, "color": "#000", "strokeWidth": 1.1},
          "encoding": {
            "x": {"field": "f", "type": "quantitative", "scale": {"type": "log", "domain": [0.002, 1950], "nice": false},
              "axis": {"orient": "top", "values": [0.01,0.1,1,10,100,1000], "labels": false, "title": null, "tickSize": -5}},
            "y": {"field": "plo", "type": "quantitative", "scale": {"type": "log", "domain": [1.12e-5, 0.09], "nice": false},
              "axis": {"orient": "right", "values": [2e-5,3e-5,4e-5,5e-5,6e-5,7e-5,8e-5,9e-5,1e-4,2e-4,3e-4,4e-4,5e-4,6e-4,7e-4,8e-4,9e-4,1e-3,2e-3,3e-3,4e-3,5e-3,6e-3,7e-3,8e-3,9e-3,1e-2,2e-2,3e-2,4e-2,5e-2,6e-2,7e-2,8e-2],
                "tickSize": {"condition": {"test": "datum.value == 0.0001 || datum.value == 0.001 || datum.value == 0.01", "value": -10}, "value": -5},
                "labelExpr": "datum.value == 0.0001 ? '10⁻⁴' : datum.value == 0.001 ? '10⁻³' : datum.value == 0.01 ? '10⁻²' : ''",
                "labelAngle": 270, "labelAlign": "center", "labelBaseline": "top", "labelPadding": 19, "title": null}},
            "y2": {"field": "phi"}
          }
        }
      ],
      "resolve": {"axis": {"x": "independent", "y": "independent"}}
    }
  ]
}
